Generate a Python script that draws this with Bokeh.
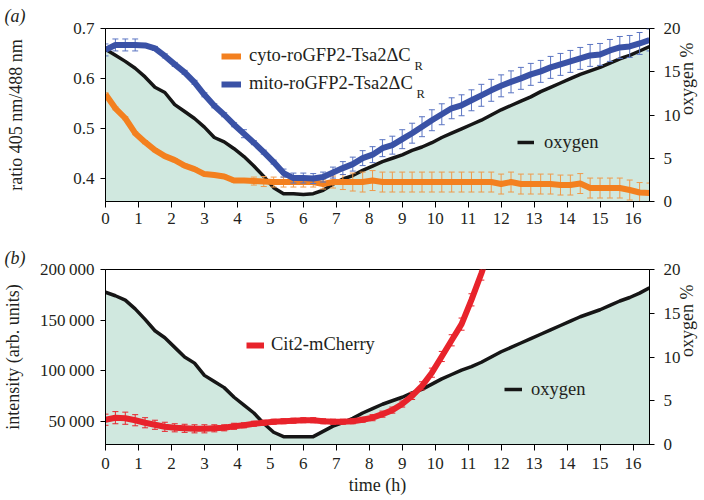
from bokeh.plotting import figure
from bokeh.models import (Range1d, LinearAxis, FixedTicker, ColumnDataSource,
                          Legend, LegendItem, Label, Title)
from bokeh.layouts import column
from bokeh.embed import file_html
from bokeh.resources import INLINE
import math

# ---------------- data ----------------
time_h = [0.0, 0.3, 0.6, 0.9, 1.2, 1.5, 1.8, 2.1, 2.4, 2.7, 3.0, 3.3, 3.6, 3.9,
          4.2, 4.5, 4.8, 5.1, 5.4, 5.7, 6.0, 6.3, 6.6, 6.9, 7.2, 7.5, 7.8, 8.1,
          8.4, 8.7, 9.0, 9.3, 9.6, 9.9, 10.2, 10.5, 10.8, 11.1, 11.4, 11.7, 12.0,
          12.3, 12.6, 12.9, 13.2, 13.5, 13.8, 14.1, 14.4, 14.7, 15.0, 15.3, 15.6,
          15.9, 16.2, 16.5]

oxygen_a = [17.6, 16.9, 16.2, 15.4, 14.4, 13.2, 12.6, 11.2, 10.4, 9.6,
            8.6, 7.4, 6.9, 6.1, 5.2, 4.1, 2.9, 1.6, 0.9, 0.9,
            0.8, 0.9, 1.3, 2.0, 2.6, 3.0, 3.6, 4.1, 4.6, 5.0,
            5.4, 5.9, 6.3, 6.8, 7.4, 7.9, 8.4, 8.9, 9.4, 10.0,
            10.6, 11.1, 11.6, 12.1, 12.7, 13.2, 13.7, 14.2, 14.7, 15.1,
            15.5, 16.0, 16.5, 16.9, 17.4, 17.9]

mito = [0.657, 0.667, 0.667, 0.667, 0.666, 0.660, 0.645, 0.628, 0.612, 0.592,
        0.567, 0.545, 0.527, 0.507, 0.489, 0.471, 0.452, 0.432, 0.410, 0.400,
        0.400, 0.399, 0.402, 0.411, 0.420, 0.428, 0.440, 0.447, 0.460, 0.466,
        0.478, 0.490, 0.503, 0.516, 0.528, 0.540, 0.546, 0.556, 0.566, 0.576,
        0.585, 0.593, 0.600, 0.608, 0.614, 0.622, 0.628, 0.634, 0.640, 0.646,
        0.648, 0.656, 0.662, 0.664, 0.670, 0.677]
mito_err = [0.012, 0.012, 0.012, 0.012, 0.004, 0.004, 0.004, 0.004, 0.004, 0.004,
            0.004, 0.004, 0.004, 0.004, 0.008, 0.004, 0.004, 0.004, 0.008, 0.010,
            0.010, 0.010, 0.010, 0.011, 0.013, 0.014, 0.015, 0.016, 0.017, 0.018,
            0.019, 0.020, 0.020, 0.021, 0.021, 0.021, 0.021, 0.021, 0.022, 0.022,
            0.022, 0.022, 0.022, 0.022, 0.022, 0.022, 0.022, 0.022, 0.022, 0.022,
            0.022, 0.022, 0.022, 0.022, 0.022, 0.022]

cyto = [0.568, 0.540, 0.520, 0.490, 0.472, 0.456, 0.444, 0.436, 0.425, 0.418,
        0.408, 0.406, 0.403, 0.395, 0.395, 0.394, 0.393, 0.392, 0.392, 0.392,
        0.392, 0.392, 0.388, 0.392, 0.392, 0.392, 0.392, 0.395, 0.392, 0.392,
        0.392, 0.392, 0.392, 0.392, 0.392, 0.392, 0.392, 0.392, 0.392, 0.392,
        0.388, 0.392, 0.388, 0.388, 0.388, 0.388, 0.386, 0.386, 0.389, 0.380,
        0.380, 0.380, 0.380, 0.376, 0.371, 0.370]
cyto_err = [0.003, 0.003, 0.003, 0.003, 0.003, 0.003, 0.003, 0.003, 0.003, 0.003,
            0.003, 0.003, 0.003, 0.003, 0.003, 0.008, 0.010, 0.010, 0.010, 0.010,
            0.010, 0.010, 0.010, 0.012, 0.015, 0.018, 0.020, 0.020, 0.020, 0.020,
            0.020, 0.020, 0.020, 0.020, 0.020, 0.020, 0.020, 0.020, 0.020, 0.020,
            0.020, 0.020, 0.020, 0.020, 0.020, 0.020, 0.020, 0.020, 0.020, 0.020,
            0.020, 0.020, 0.020, 0.020, 0.020, 0.020]

oxygen_b = [17.4, 17.0, 16.5, 15.5, 14.3, 13.0, 12.2, 11.1, 10.0, 9.3,
            7.9, 7.2, 6.5, 5.4, 4.5, 3.6, 2.4, 1.4, 0.9, 0.9,
            0.9, 0.9, 1.5, 2.1, 2.5, 3.0, 3.6, 4.1, 4.6, 5.0,
            5.4, 5.9, 6.3, 6.9, 7.5, 8.0, 8.5, 8.9, 9.4, 10.0,
            10.6, 11.1, 11.6, 12.1, 12.6, 13.1, 13.6, 14.1, 14.6, 15.0,
            15.4, 15.9, 16.4, 16.8, 17.3, 17.9]

cit2_time = time_h[:40]
cit2 = [51500, 53500, 53000, 51000, 48500, 46500, 44500, 43500, 43000, 42500,
        42500, 43000, 43500, 45000, 46000, 47500, 48500, 49500, 50000, 50500,
        51000, 51000, 50000, 49500, 49500, 50000, 51500, 53500, 57000, 61000,
        67000, 75000, 85000, 98000, 114000, 130000, 146000, 170000, 196000, 225000]
cit2_err = [5500, 6000, 6000, 5500, 5000, 4500, 4500, 4000, 4000, 4000,
            4000, 3500, 3000, 3000, 2500, 2500, 2500, 2500, 2500, 2500,
            2500, 2500, 2500, 2500, 2500, 2500, 2500, 3000, 3000, 3000,
            3000, 3500, 4000, 4500, 5000, 5500, 6000, 6000, 6500, 7000]

x_ticks = list(range(0, 17))
ratio_ticks = [0.4, 0.5, 0.6, 0.7]
oxy_ticks = [0, 5, 10, 15, 20]
int_ticks = [50000, 100000, 150000, 200000]
int_labels = ["50\u2009000", "100\u2009000", "150\u2009000", "200\u2009000"]

# ---------------- style ----------------
FONT = "Liberation Serif"
TXT = "#231f20"
FILL = "#d0e8df"
ORANGE = "#f3801f"
ORANGE_ERR = "#f09a4a"
BLUE = "#3a52a6"
BLUE_ERR = "#5a74c2"
RED = "#e8232b"
BLACK = "#161616"

FW = 544
FH1 = 173
FH2 = 175
LEG_FS = "18.5px"


def style_axis(ax, tick_out=5, label_standoff=4, axis_standoff=5):
    ax.axis_line_color = "black"
    ax.axis_line_width = 1
    ax.major_tick_line_color = "black"
    ax.major_tick_out = tick_out
    ax.major_tick_in = 0
    ax.minor_tick_out = 0
    ax.minor_tick_in = 0
    ax.minor_tick_line_color = None
    ax.major_label_text_font = FONT
    ax.major_label_text_font_size = "17px"
    ax.major_label_text_color = TXT
    ax.major_label_standoff = label_standoff
    ax.axis_label_text_font = FONT
    ax.axis_label_text_font_size = "18px"
    ax.axis_label_text_font_style = "normal"
    ax.axis_label_text_color = TXT
    ax.axis_label_standoff = axis_standoff


def make_fig(fh, y0, y1, top, bottom):
    p = figure(frame_width=FW, frame_height=fh,
               x_range=Range1d(0, 16.5), y_range=Range1d(y0, y1),
               output_backend="svg", toolbar_location=None,
               min_border_left=104, min_border_right=0,
               min_border_top=top, min_border_bottom=bottom)
    p.extra_y_ranges = {"oxy": Range1d(0, 20)}
    p.xgrid.grid_line_color = None
    p.ygrid.grid_line_color = None
    p.outline_line_color = "black"
    p.outline_line_width = 1
    p.background_fill_color = "white"
    p.border_fill_color = "white"
    return p


def error_bars(p, xs, ys, es, color):
    lo = [y - e for y, e in zip(ys, es)]
    hi = [y + e for y, e in zip(ys, es)]
    src = ColumnDataSource(dict(x=xs, lo=lo, hi=hi))
    p.segment(x0="x", y0="lo", x1="x", y1="hi", source=src,
              line_color=color, line_width=1)
    p.scatter(x="x", y="lo", source=src, marker="dash", size=6,
              line_color=color, line_width=1)
    p.scatter(x="x", y="hi", source=src, marker="dash", size=6,
              line_color=color, line_width=1)


def legend(p, items, x, y, gw, standoff):
    lg = Legend(items=items, location=(x, y), orientation="vertical",
                padding=0, margin=0, spacing=6,
                glyph_width=gw, glyph_height=22, label_height=22,
                label_standoff=standoff,
                label_text_font=FONT, label_text_font_size=LEG_FS,
                label_text_color=TXT,
                background_fill_alpha=0, border_line_color=None)
    p.add_layout(lg)


def panel_tag(p, text, standoff):
    p.add_layout(Title(text=text, align="left", offset=-101, standoff=standoff,
                       text_font=FONT, text_font_size="18px",
                       text_font_style="italic", text_color=TXT), "above")


# ---------------- panel (a) ----------------
p1 = make_fig(FH1, 0.353, 0.70, 28, 33)
src_a = ColumnDataSource(dict(t=time_h, oxy=oxygen_a, cyto=cyto, mito=mito))

p1.varea(x="t", y1=0, y2="oxy", source=src_a, y_range_name="oxy",
         fill_color=FILL)
r_oxy_a = p1.line(x="t", y="oxy", source=src_a, y_range_name="oxy",
                  line_color=BLACK, line_width=3.5, line_join="round")
error_bars(p1, time_h, cyto, cyto_err, ORANGE_ERR)
r_cyto = p1.line(x="t", y="cyto", source=src_a, line_color=ORANGE,
                 line_width=6, line_join="round")
error_bars(p1, time_h, mito, mito_err, BLUE_ERR)
r_mito = p1.line(x="t", y="mito", source=src_a, line_color=BLUE,
                 line_width=6, line_join="round")

p1.xaxis.ticker = FixedTicker(ticks=x_ticks)
p1.yaxis.ticker = FixedTicker(ticks=ratio_ticks)
p1.yaxis.axis_label = "ratio 405 nm/488 nm"
style_axis(p1.xaxis[0], tick_out=6, label_standoff=5)
style_axis(p1.yaxis[0], tick_out=5, label_standoff=6, axis_standoff=44)
ax_r1 = LinearAxis(y_range_name="oxy", axis_label="oxygen %",
                   ticker=FixedTicker(ticks=oxy_ticks))
style_axis(ax_r1, tick_out=5, label_standoff=9, axis_standoff=3)
ax_r1.axis_label_orientation = math.pi / 2
p1.add_layout(ax_r1, "right")

legend(p1, [LegendItem(label="cyto-roGFP2-Tsa2\u0394C", renderers=[r_cyto]),
            LegendItem(label="mito-roGFP2-Tsa2\u0394C", renderers=[r_mito])],
       116, FH1 - 66.7, 20, 8)
legend(p1, [LegendItem(label="oxygen", renderers=[r_oxy_a])],
       412, FH1 - 125, 17, 10)
for sx, sy in [(309, FH1 - 37), (311, FH1 - 65)]:
    p1.add_layout(Label(x=sx, y=sy, x_units="screen", y_units="screen",
                        text="R", text_font=FONT, text_font_size="12.5px",
                        text_color=TXT, text_baseline="alphabetic"))
panel_tag(p1, "(a)", 6)

# ---------------- panel (b) ----------------
p2 = make_fig(FH2, 27000, 200000, 35, 40)
src_b = ColumnDataSource(dict(t=time_h, oxy=oxygen_b))
src_c = ColumnDataSource(dict(t=cit2_time, v=cit2))

p2.varea(x="t", y1=0, y2="oxy", source=src_b, y_range_name="oxy",
         fill_color=FILL)
r_oxy_b = p2.line(x="t", y="oxy", source=src_b, y_range_name="oxy",
                  line_color=BLACK, line_width=3.5, line_join="round")
error_bars(p2, cit2_time, cit2, cit2_err, RED)
r_cit = p2.line(x="t", y="v", source=src_c, line_color=RED, line_width=6,
                line_join="round")

p2.xaxis.ticker = FixedTicker(ticks=x_ticks)
p2.xaxis.axis_label = "time (h)"
p2.yaxis.ticker = FixedTicker(ticks=int_ticks)
p2.yaxis.major_label_overrides = dict(zip(int_ticks, int_labels))
p2.yaxis.axis_label = "intensity (arb. units)"
style_axis(p2.xaxis[0], tick_out=6, label_standoff=7, axis_standoff=3)
style_axis(p2.yaxis[0], tick_out=5, label_standoff=6, axis_standoff=14)
ax_r2 = LinearAxis(y_range_name="oxy", axis_label="oxygen %",
                   ticker=FixedTicker(ticks=oxy_ticks))
style_axis(ax_r2, tick_out=5, label_standoff=9, axis_standoff=3)
ax_r2.axis_label_orientation = math.pi / 2
p2.add_layout(ax_r2, "right")

legend(p2, [LegendItem(label="Cit2-mCherry", renderers=[r_cit])],
       141, FH2 - 86.7, 18, 7)
legend(p2, [LegendItem(label="oxygen", renderers=[r_oxy_b])],
       399, FH2 - 131, 18, 9)
panel_tag(p2, "(b)", 3)

layout = column(p1, p2, spacing=0)
open("out.html", "w").write(file_html(layout, INLINE))
